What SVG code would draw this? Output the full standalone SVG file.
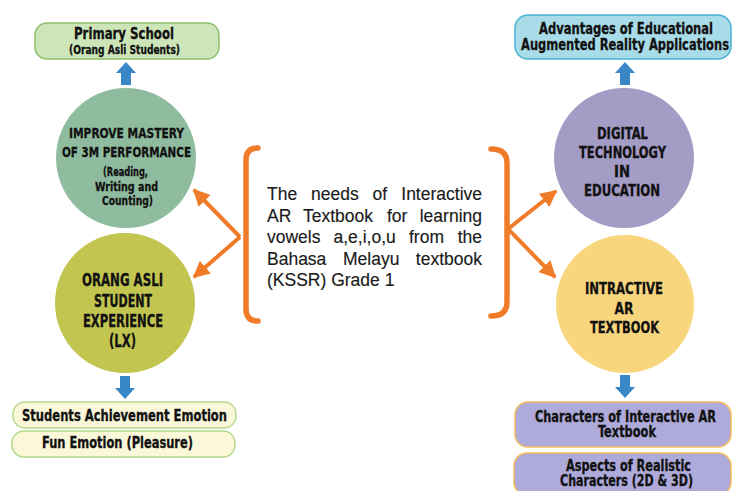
<svg xmlns="http://www.w3.org/2000/svg" width="733" height="491" viewBox="0 0 733 491">
<style>
.n{font-family:"DejaVu Sans Condensed","Liberation Sans",sans-serif;font-weight:bold;fill:#111;stroke:#111;stroke-width:0.3;text-anchor:middle}
.c{font-family:"Liberation Sans",Arial,sans-serif;font-size:17.5px;fill:#1a1a1a;stroke:#1a1a1a;stroke-width:0.15}
.e{text-anchor:end}
.br{fill:none;stroke:#f07c2a;stroke-width:5.5;stroke-linecap:round}
.ar{stroke:#f07c2a;stroke-width:4;fill:none}
.blue{fill:#3a87c8}
</style>
<defs>
<marker id="oh" viewBox="0 0 10 10" refX="9" refY="5" markerWidth="4.2" markerHeight="4.2" orient="auto" markerUnits="strokeWidth">
<path d="M0,0 L10,5 L0,10 Z" fill="#f07c2a"/>
</marker>
</defs>
<rect width="733" height="491" fill="#fff"/>

<g id="primary-school">
<rect x="35" y="23" width="184" height="36" rx="12" fill="#cde5b9" stroke="#8cc068" stroke-width="1.5"/>
<text class="n" x="124" y="39" font-size="15" textLength="100" lengthAdjust="spacingAndGlyphs">Primary School</text>
<text class="n" x="124.5" y="54" font-size="11.5" textLength="111" lengthAdjust="spacingAndGlyphs">(Orang Asli Students)</text>
</g>

<g id="improve-mastery">
<circle cx="126" cy="158" r="70" fill="#8fbc9f"/>
<text class="n" x="126.5" y="138" font-size="14" textLength="115" lengthAdjust="spacingAndGlyphs">IMPROVE MASTERY</text>
<text class="n" x="126.5" y="157" font-size="14" textLength="129" lengthAdjust="spacingAndGlyphs">OF 3M PERFORMANCE</text>
<text class="n" x="125.5" y="176" font-size="12" textLength="45" lengthAdjust="spacingAndGlyphs">(Reading,</text>
<text class="n" x="126.5" y="191" font-size="12" textLength="63" lengthAdjust="spacingAndGlyphs">Writing and</text>
<text class="n" x="127.5" y="205" font-size="12" textLength="51" lengthAdjust="spacingAndGlyphs">Counting)</text>
</g>

<g id="orang-asli-experience">
<circle cx="125" cy="303" r="70" fill="#c2c550"/>
<text class="n" x="122.5" y="286" font-size="17" textLength="81" lengthAdjust="spacingAndGlyphs">ORANG ASLI</text>
<text class="n" x="123" y="307" font-size="17" textLength="58" lengthAdjust="spacingAndGlyphs">STUDENT</text>
<text class="n" x="123" y="327" font-size="17" textLength="80" lengthAdjust="spacingAndGlyphs">EXPERIENCE</text>
<text class="n" x="122.5" y="347" font-size="17" textLength="27" lengthAdjust="spacingAndGlyphs">(LX)</text>
</g>

<g id="students-achievement">
<rect x="13" y="402" width="223" height="26" rx="12" fill="#fbf8da" stroke="#b5d98c" stroke-width="1.5"/>
<text class="n" x="124.5" y="421" font-size="15" textLength="205" lengthAdjust="spacingAndGlyphs">Students Achievement Emotion</text>
</g>

<g id="fun-emotion">
<rect x="12" y="431" width="223" height="26" rx="12" fill="#fbf8da" stroke="#b5d98c" stroke-width="1.5"/>
<text class="n" x="117.5" y="448" font-size="15" textLength="151" lengthAdjust="spacingAndGlyphs">Fun Emotion (Pleasure)</text>
</g>

<g id="advantages">
<rect x="515" y="15" width="216" height="44" rx="13" fill="#a7dce8" stroke="#4ab3d3" stroke-width="1.5"/>
<text class="n" x="626" y="34" font-size="15.5" textLength="174" lengthAdjust="spacingAndGlyphs">Advantages of Educational</text>
<text class="n" x="625" y="50" font-size="15.5" textLength="208" lengthAdjust="spacingAndGlyphs">Augmented Reality Applications</text>
</g>

<g id="digital-technology">
<circle cx="624" cy="158" r="70" fill="#a39cc5"/>
<text class="n" x="622.5" y="139" font-size="16.5" textLength="51" lengthAdjust="spacingAndGlyphs">DIGITAL</text>
<text class="n" x="622.5" y="158" font-size="16.5" textLength="87" lengthAdjust="spacingAndGlyphs">TECHNOLOGY</text>
<text class="n" x="622" y="177" font-size="16.5" textLength="16" lengthAdjust="spacingAndGlyphs">IN</text>
<text class="n" x="622" y="196" font-size="16.5" textLength="76" lengthAdjust="spacingAndGlyphs">EDUCATION</text>
</g>

<g id="interactive-ar-textbook">
<circle cx="625" cy="304" r="69" fill="#f8d67e"/>
<text class="n" x="624" y="294" font-size="16.5" textLength="78" lengthAdjust="spacingAndGlyphs">INTRACTIVE</text>
<text class="n" x="624" y="314" font-size="16.5" textLength="19" lengthAdjust="spacingAndGlyphs">AR</text>
<text class="n" x="624.5" y="333" font-size="16.5" textLength="69" lengthAdjust="spacingAndGlyphs">TEXTBOOK</text>
</g>

<g id="characters-textbook">
<rect x="515" y="402" width="216" height="45" rx="13" fill="#aeaada" stroke="#f6bb5e" stroke-width="1.5"/>
<text class="n" x="625.5" y="422" font-size="15" textLength="181" lengthAdjust="spacingAndGlyphs">Characters of Interactive AR</text>
<text class="n" x="627" y="437" font-size="15" textLength="58" lengthAdjust="spacingAndGlyphs">Textbook</text>
</g>

<g id="aspects-realistic">
<rect x="514" y="453" width="217" height="42" rx="13" fill="#aeaada" stroke="#f6bb5e" stroke-width="1.5"/>
<text class="n" x="628.5" y="471" font-size="15" textLength="125" lengthAdjust="spacingAndGlyphs">Aspects of Realistic</text>
<text class="n" x="626.5" y="486" font-size="15" textLength="133" lengthAdjust="spacingAndGlyphs">Characters (2D &amp; 3D)</text>
</g>

<g id="center-needs">
<path class="br" d="M258,148 Q246,148 246,160 L246,309 Q246,321 258,321"/>
<path class="br" d="M491,149 Q507,149 507,163 L507,302 Q507,316 491,316"/>
<text class="c" x="267" y="200">The</text>
<text class="c" x="311" y="200">needs</text>
<text class="c" x="372.5" y="200">of</text>
<text class="c e" x="482" y="200">Interactive</text>
<text class="c" x="267" y="221.5">AR</text>
<text class="c" x="303" y="221.5">Textbook</text>
<text class="c" x="387" y="221.5">for</text>
<text class="c e" x="482" y="221.5">learning</text>
<text class="c" x="267" y="243">vowels</text>
<text class="c" x="333.5" y="243">a,e,i,o,u</text>
<text class="c" x="409" y="243">from</text>
<text class="c e" x="482" y="243">the</text>
<text class="c" x="267" y="264.5">Bahasa</text>
<text class="c" x="343" y="264.5">Melayu</text>
<text class="c e" x="482" y="264.5">textbook</text>
<text class="c" x="267" y="286">(KSSR) Grade 1</text>
</g>

<g id="connectors">
<line class="ar" x1="240" y1="237" x2="194" y2="190" marker-end="url(#oh)"/>
<line class="ar" x1="240" y1="237" x2="194" y2="277" marker-end="url(#oh)"/>
<line class="ar" x1="508" y1="229" x2="556" y2="191" marker-end="url(#oh)"/>
<line class="ar" x1="508" y1="229" x2="555" y2="277" marker-end="url(#oh)"/>
<path class="blue" d="M126,62 L136,73 L131,73 L131,85 L121,85 L121,73 L116,73 Z"/>
<path class="blue" d="M625,62 L635,73 L630,73 L630,85 L620,85 L620,73 L615,73 Z"/>
<path class="blue" d="M125,399 L135,388 L130,388 L130,376 L120,376 L120,388 L115,388 Z"/>
<path class="blue" d="M625,398 L635,387 L630,387 L630,375 L620,375 L620,387 L615,387 Z"/>
</g>
</svg>
